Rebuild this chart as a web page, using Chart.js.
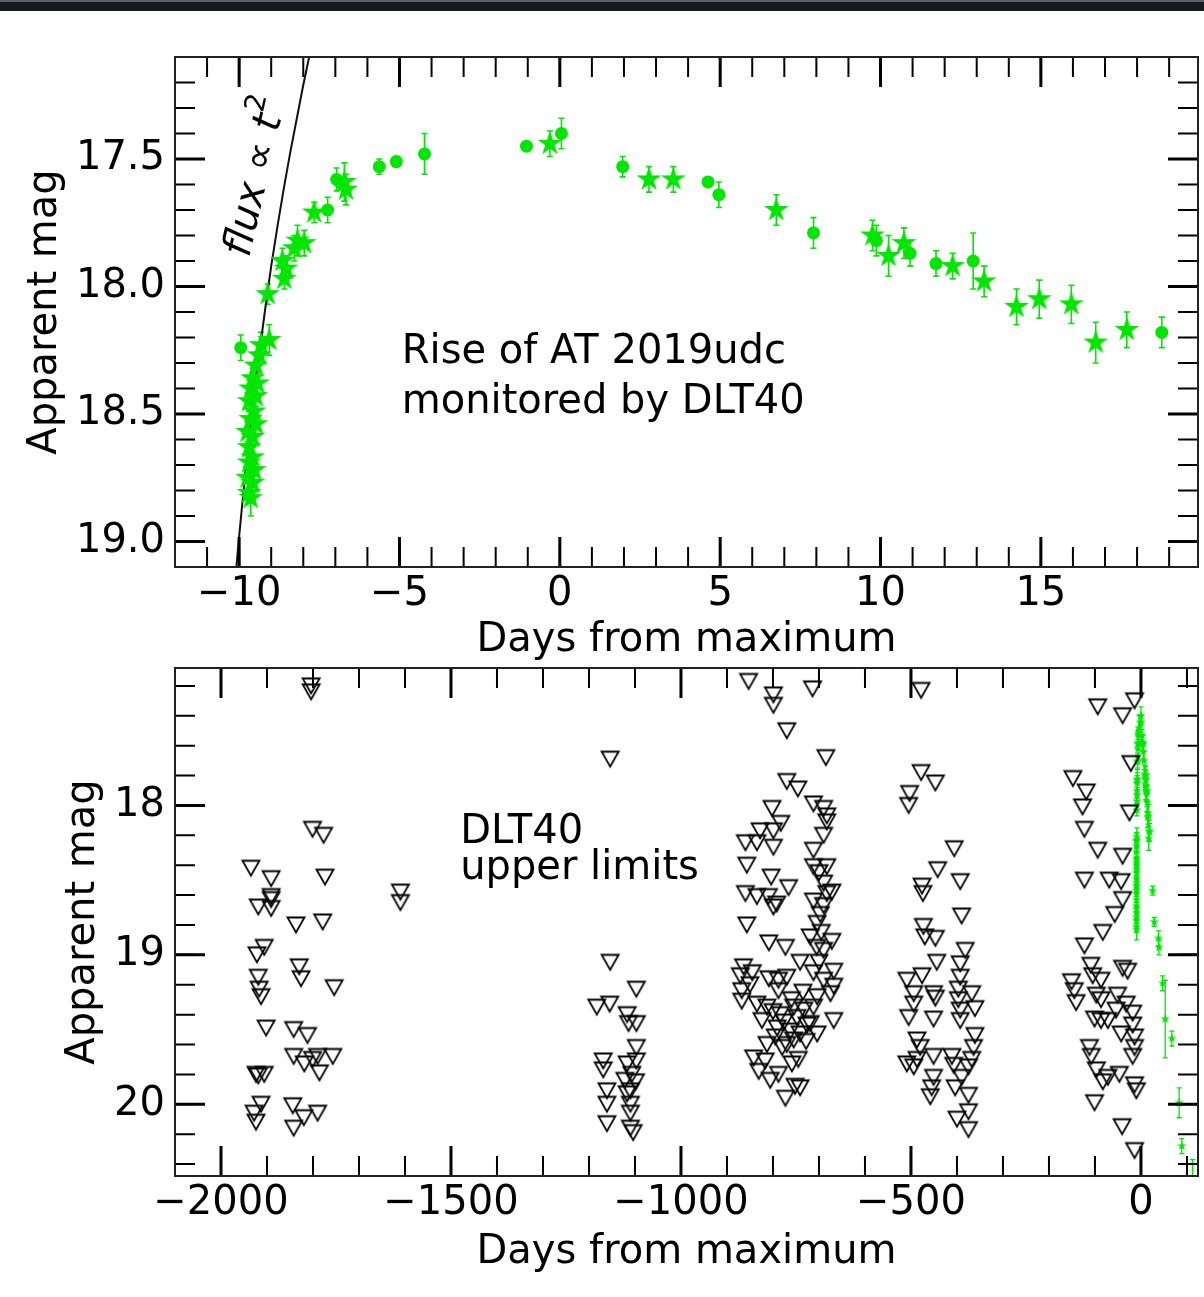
<!DOCTYPE html>
<html><head><meta charset="utf-8">
<script src="https://cdn.jsdelivr.net/npm/chart.js@4.4.1/dist/chart.umd.min.js"></script>
<style>
html,body{margin:0;padding:0;background:#fff;}
body{width:1204px;height:1297px;position:relative;overflow:hidden;}
#bar{position:absolute;left:0;top:0;width:1204px;height:9px;background:#16181b;border-top:2px solid #5e6063;z-index:5;}
canvas{position:absolute;left:0;}
#c1{top:0;} #c2{top:659px;}
</style></head><body>
<div id="bar"></div>
<canvas id="c1" width="1207" height="665"></canvas>
<canvas id="c2" width="1207" height="638"></canvas>
<script>
// ---------------- data ----------------
const topXTicks = [-10, -5, 0, 5, 10, 15];
const topYTicks = [17.5, 18.0, 18.5, 19.0];
const botXTicks = [-2000, -1500, -1000, -500, 0];
const botYTicks = [18, 19, 20];

// DLT40 detections shown as stars (days from max, mag, error)
const starT = [-9.06,-9.32,-9.375,-9.48,-9.58,-9.43,-9.64,-9.48,-9.69,-9.53,-9.64,-9.48,-9.74,-9.58,-9.69,-9.58,-9.69,-9.53,-9.74,-9.58,-9.69,-9.64,-9.11,-8.65,-8.54,-8.59,-8.18,-7.97,-8.28,-7.66,-6.72,-6.67,-0.31,2.78,3.54,6.75,9.75,10.25,10.73,12.25,13.23,14.24,14.95,15.95,16.71,17.68];
const starM = [18.21,18.23,18.27,18.31,18.36,18.38,18.40,18.43,18.45,18.49,18.52,18.54,18.57,18.59,18.63,18.67,18.69,18.72,18.75,18.77,18.81,18.83,18.03,17.90,17.93,17.97,17.82,17.83,17.85,17.71,17.59,17.62,17.44,17.58,17.58,17.70,17.80,17.88,17.83,17.92,17.98,18.08,18.05,18.07,18.22,18.17];
const starE = [0.06,0.05,0.04,0.04,0.04,0.04,0.04,0.04,0.04,0.04,0.04,0.04,0.04,0.04,0.04,0.04,0.04,0.04,0.04,0.04,0.04,0.07,0.04,0.05,0.05,0.04,0.06,0.05,0.05,0.04,0.075,0.06,0.05,0.05,0.05,0.06,0.06,0.08,0.06,0.05,0.06,0.07,0.075,0.075,0.08,0.07];

// detections shown as circles
const circT = [-9.95,-7.24,-6.96,-5.63,-5.10,-4.22,-1.04,0.05,1.96,4.62,4.96,7.91,9.87,10.92,11.73,12.89,18.77];
const circM = [18.24,17.70,17.58,17.53,17.51,17.48,17.45,17.40,17.53,17.59,17.64,17.79,17.82,17.87,17.91,17.90,18.18];
const circE = [0.05,0.05,0.045,0.03,0.02,0.08,0.01,0.06,0.04,0.01,0.05,0.06,0.06,0.05,0.05,0.11,0.06];

// later detections (bottom panel only)
const lateT = [25.3,28.9,38,39,47,52.7,67,83,88.7,112];
const lateM = [18.57,18.78,18.89,18.95,19.19,19.43,19.56,19.99,20.28,20.62];
const lateE = [0.03,0.03,0.05,0.05,0.05,0.26,0.05,0.10,0.05,0.25];

// flux ∝ t^2 curve
const fitT = [-10.1,-10.0,-9.8,-9.6,-9.4,-9.2,-9.0,-8.8,-8.6,-8.4,-8.2,-8.0,-7.8,-7.7];
const fitM = [19.12,18.98,18.72,18.49,18.29,18.10,17.92,17.76,17.61,17.47,17.34,17.21,17.09,17.04];

// DLT40 upper limits [days from max, mag]
const limitsA = [[-1804,17.20],[-1804,17.24],[-1801,18.16],[-1777,18.20],[-1935,18.42],[-1891,18.49],[-1774,18.48],[-1891,18.61],[-1891,18.63],[-1919,18.68],[-1891,18.69],[-1837,18.80],[-1779,18.78],[-1906,18.95],[-1922,19.00],[-1830,19.08],[-1826,19.16],[-1919,19.15],[-1917,19.23],[-1913,19.28],[-1754,19.22],[-1902,19.49],[-1842,19.50],[-1812,19.54],[-1842,19.68],[-1819,19.73],[-1790,19.68],[-1786,19.79],[-1757,19.68],[-1801,19.70],[-1924,19.80],[-1906,19.80],[-1919,19.81],[-1913,20.00],[-1928,20.06],[-1924,20.12],[-1844,20.01],[-1820,20.09],[-1790,20.06],[-1842,20.16],[-1610,18.58],[-1610,18.65]];
const limitsB = [[-1154,17.69],[-1154,19.05],[-1097,19.23],[-1183,19.35],[-1155,19.33],[-1117,19.40],[-1097,19.46],[-1114,19.46],[-1097,19.62],[-1169,19.71],[-1169,19.77],[-1117,19.73],[-1107,19.80],[-1122,19.84],[-1097,19.71],[-1110,19.91],[-1161,19.91],[-1161,20.00],[-1110,20.00],[-1117,19.93],[-1161,20.13],[-1110,20.16],[-1104,20.19],[-1099,19.85],[-1110,20.06]];
const limitsC = [[-853,17.17],[-799,17.26],[-799,17.33],[-714,17.22],[-770,17.50],[-685,17.68],[-770,17.84],[-746,17.89],[-802,18.02],[-783,18.12],[-712,17.99],[-690,18.02],[-683,18.07],[-683,18.11],[-690,18.20],[-828,18.17],[-860,18.25],[-835,18.25],[-799,18.17],[-799,18.28],[-712,18.30],[-857,18.40],[-712,18.41],[-683,18.41],[-804,18.48],[-766,18.55],[-860,18.59],[-835,18.61],[-810,18.61],[-799,18.68],[-792,18.66],[-712,18.64],[-683,18.59],[-672,18.58],[-690,18.67],[-697,18.73],[-704,18.79],[-857,18.80],[-809,18.92],[-773,18.95],[-719,18.88],[-672,18.91],[-690,18.97],[-741,19.05],[-864,19.08],[-871,19.14],[-868,19.24],[-868,19.31],[-809,19.16],[-788,19.17],[-770,19.15],[-788,19.24],[-712,19.12],[-690,19.17],[-668,19.11],[-668,19.21],[-675,19.26],[-704,19.28],[-835,19.33],[-813,19.35],[-824,19.44],[-784,19.40],[-755,19.35],[-733,19.37],[-712,19.35],[-791,19.49],[-762,19.51],[-741,19.53],[-719,19.46],[-704,19.53],[-668,19.44],[-813,19.60],[-770,19.60],[-755,19.57],[-842,19.69],[-817,19.71],[-831,19.78],[-806,19.84],[-788,19.80],[-759,19.73],[-745,19.70],[-752,19.88],[-741,19.89],[-773,19.96],[-800,19.38],[-776,19.45],[-748,19.42],[-726,19.47],[-760,19.30],[-735,19.25],[-795,19.55],[-780,19.62],[-728,19.58],[-850,19.20],[-845,19.12],[-700,19.05],[-695,18.85],[-705,18.95],[-700,18.45],[-690,18.52]];
const limitsD = [[-478,17.23],[-478,17.78],[-447,17.85],[-503,17.92],[-505,18.00],[-406,18.29],[-442,18.43],[-476,18.54],[-474,18.59],[-393,18.51],[-390,18.74],[-473,18.81],[-470,18.88],[-447,18.89],[-444,19.05],[-382,18.97],[-393,19.06],[-393,19.15],[-509,19.17],[-476,19.14],[-494,19.26],[-494,19.33],[-505,19.42],[-451,19.26],[-447,19.29],[-451,19.43],[-397,19.23],[-397,19.30],[-368,19.26],[-361,19.36],[-393,19.37],[-393,19.44],[-487,19.57],[-480,19.62],[-509,19.73],[-494,19.75],[-487,19.70],[-451,19.68],[-451,19.82],[-455,19.89],[-458,19.95],[-361,19.54],[-364,19.62],[-368,19.70],[-375,19.75],[-411,19.68],[-407,19.74],[-404,19.89],[-375,19.94],[-375,20.05],[-400,20.10],[-375,20.17],[-390,19.82]];
const limitsE = [[-94,17.34],[-14,17.30],[-40,17.40],[-22,17.72],[-148,17.82],[-119,17.91],[-127,18.01],[-123,18.16],[-25,18.05],[-94,18.30],[-40,18.34],[-123,18.50],[-69,18.50],[-43,18.51],[-40,18.63],[-57,18.73],[-83,18.85],[-123,18.94],[-109,19.07],[-105,19.14],[-87,19.17],[-151,19.18],[-145,19.24],[-141,19.32],[-40,19.09],[-29,19.11],[-97,19.27],[-87,19.30],[-51,19.27],[-54,19.37],[-32,19.33],[-101,19.43],[-87,19.44],[-72,19.44],[-43,19.53],[-18,19.39],[-18,19.47],[-14,19.55],[-14,19.62],[-112,19.62],[-108,19.68],[-97,19.77],[-83,19.85],[-72,19.82],[-47,19.80],[-18,19.68],[-14,19.87],[-10,19.91],[-101,19.99],[-41,20.15],[-14,20.31]];

// ---------------- style helpers ----------------
Chart.defaults.font.family = '"DejaVu Sans", sans-serif';
Chart.defaults.color = '#000';
const GREEN = '#00e600';

function starCanvas(R, color) {
  const s = Math.ceil(R * 2 + 4);
  const c = document.createElement('canvas'); c.width = s; c.height = s;
  const g = c.getContext('2d'); g.translate(s / 2, s / 2); g.beginPath();
  for (let k = 0; k < 10; k++) {
    const r = k % 2 === 0 ? R : R * 0.382;
    const a = -Math.PI / 2 + k * Math.PI / 5;
    g.lineTo(r * Math.cos(a), r * Math.sin(a));
  }
  g.closePath(); g.fillStyle = color; g.fill();
  return c;
}
function triCanvas() {
  const c = document.createElement('canvas'); c.width = 22; c.height = 20;
  const g = c.getContext('2d');
  g.beginPath(); g.moveTo(2.5, 2.5); g.lineTo(19.5, 2.5); g.lineTo(11, 17.5); g.closePath();
  g.lineWidth = 1.8; g.strokeStyle = '#000'; g.stroke();
  return c;
}
function range(a, b, step) { const out = []; for (let v = a; v <= b + 1e-9; v += step) out.push(Math.round(v * 1000) / 1000); return out; }
function fmt(v, dec) { return (v < 0 ? '\u2212' : '') + Math.abs(v).toFixed(dec); }
function pts(xs, ys) { return xs.map((x, i) => ({x: x, y: ys[i]})); }

const errorBars = {
  id: 'errorBars',
  beforeDatasetsDraw(chart) {
    const {ctx, chartArea: a, scales: {x, y}} = chart;
    ctx.save();
    ctx.beginPath(); ctx.rect(a.left, a.top, a.right - a.left, a.bottom - a.top); ctx.clip();
    chart.data.datasets.forEach(ds => {
      if (!ds.errors) return;
      ctx.strokeStyle = ds.errColor; ctx.lineWidth = ds.errWidth;
      ctx.beginPath();
      ds.data.forEach((p, i) => {
        const e = ds.errors[i]; if (!e) return;
        const px = x.getPixelForValue(p.x);
        const y1 = y.getPixelForValue(p.y - e), y2 = y.getPixelForValue(p.y + e);
        const c = ds.capHalf;
        ctx.moveTo(px, y1); ctx.lineTo(px, y2);
        ctx.moveTo(px - c, y1); ctx.lineTo(px + c, y1);
        ctx.moveTo(px - c, y2); ctx.lineTo(px + c, y2);
      });
      ctx.stroke();
    });
    ctx.restore();
  }
};

function makeFrame(o) {
  return {
    id: 'frame' + o.name,
    afterDatasetsDraw(chart) {
      const {ctx, chartArea: a, scales: {x, y}} = chart;
      ctx.save();
      ctx.strokeStyle = '#000';
      const tickSet = (xs, ys, len, w) => {
        ctx.lineWidth = w; ctx.beginPath();
        xs.forEach(v => { const p = x.getPixelForValue(v); ctx.moveTo(p, a.top); ctx.lineTo(p, a.top + len); ctx.moveTo(p, a.bottom); ctx.lineTo(p, a.bottom - len); });
        ys.forEach(v => { const p = y.getPixelForValue(v); ctx.moveTo(a.left, p); ctx.lineTo(a.left + len, p); ctx.moveTo(a.right, p); ctx.lineTo(a.right - len, p); });
        ctx.stroke();
      };
      tickSet(o.xMinor, o.yMinor, 20, 2);
      tickSet(o.xMajor, o.yMajor, 30, 3);
      ctx.lineWidth = 2; ctx.strokeStyle = '#222';
      ctx.strokeRect(a.left, a.top, a.right - a.left, a.bottom - a.top);
      ctx.fillStyle = '#000';
      (o.notes || []).forEach(n => {
        ctx.font = n.font; ctx.textAlign = 'left'; ctx.textBaseline = 'alphabetic';
        ctx.fillText(n.text, x.getPixelForValue(n.x), y.getPixelForValue(n.y));
      });
      if (o.rotNote) {
        const r = o.rotNote;
        ctx.translate(x.getPixelForValue(r.x), y.getPixelForValue(r.y));
        ctx.rotate(r.angle * Math.PI / 180);
        let w = 0;
        r.parts.forEach(p => { ctx.font = p.font; w += ctx.measureText(p.text).width; });
        let cx = -w / 2;
        ctx.textBaseline = 'middle'; ctx.textAlign = 'left';
        r.parts.forEach(p => { ctx.font = p.font; ctx.fillText(p.text, cx, p.dy || 0); cx += ctx.measureText(p.text).width; });
      }
      ctx.restore();
    }
  };
}

function scalesCfg(o) {
  return {
    x: {
      type: 'linear', min: o.xMin, max: o.xMax,
      grid: {display: false, drawTicks: false}, border: {display: false},
      afterBuildTicks: s => { s.ticks = o.xTicks.map(v => ({value: v})); },
      afterFit: s => { s.height = o.xH; s.paddingLeft = 0; s.paddingRight = 0; s.paddingTop = 0; s.paddingBottom = 0; },
      ticks: {font: {size: 40}, color: '#000', padding: o.xPad, maxRotation: 0, autoSkip: false, callback: v => fmt(v, o.xDec)},
      title: {display: true, text: 'Days from maximum', color: '#000', font: {size: 40}, padding: {top: 0, bottom: o.xTitlePad}}
    },
    y: {
      type: 'linear', min: o.yMin, max: o.yMax, reverse: true,
      grid: {display: false, drawTicks: false}, border: {display: false},
      afterBuildTicks: s => { s.ticks = o.yTicks.map(v => ({value: v})); },
      afterFit: s => { s.width = 175; s.paddingTop = 0; s.paddingBottom = 0; s.paddingLeft = 0; s.paddingRight = 0; },
      ticks: {font: {size: 40}, color: '#000', padding: 10, autoSkip: false, callback: v => fmt(v, o.yDec)},
      title: {display: true, text: 'Apparent mag', color: '#000', font: {size: 40}, padding: {top: o.yTitlePad, bottom: 0}}
    }
  };
}

const common = {
  responsive: false, animation: false, events: [],
  plugins: {legend: {display: false}, tooltip: {enabled: false}}
};

// ---------------- top panel ----------------
new Chart(document.getElementById('c1'), {
  type: 'scatter',
  data: {datasets: [
    {data: pts(starT, starM), errors: starE, errColor: GREEN, errWidth: 1.6, capHalf: 3,
     pointStyle: starCanvas(13, GREEN), pointRadius: 8, clip: 0},
    {data: pts(circT, circM), errors: circE, errColor: GREEN, errWidth: 1.6, capHalf: 3,
     pointStyle: 'circle', pointRadius: 6.5, backgroundColor: GREEN, borderWidth: 0, clip: 0},
    {data: pts(fitT, fitM), showLine: true, pointRadius: 0, borderColor: '#111', borderWidth: 2, clip: 0}
  ]},
  options: Object.assign({}, common, {
    layout: {padding: {top: 57, right: 0, bottom: 0, left: 0}},
    scales: scalesCfg({xMin: -12, xMax: 19.9, yMin: 17.1, yMax: 19.1, xTicks: topXTicks, yTicks: topYTicks,
      xDec: 0, yDec: 1, xH: 98, xPad: 4, xTitlePad: 0, yTitlePad: 22})
  }),
  plugins: [errorBars, makeFrame({
    name: 'Top', xMajor: topXTicks, yMajor: topYTicks,
    xMinor: range(-12, 19, 1), yMinor: range(17.2, 19.0, 0.1),
    notes: [
      {text: 'Rise of AT 2019udc', x: -4.93, y: 18.30, font: '40px "DejaVu Sans"'},
      {text: 'monitored by DLT40', x: -4.93, y: 18.496, font: '40px "DejaVu Sans"'}
    ],
    rotNote: {x: -9.44, y: 17.57, angle: -77, parts: [
      {text: 'flux', font: 'italic 40px "DejaVu Sans"'},
      {text: ' \u221D ', font: '40px "DejaVu Sans"'},
      {text: 't', font: 'italic 40px "DejaVu Sans"'},
      {text: '2', font: '28px "DejaVu Sans"', dy: -16}
    ]}
  })]
});

// ---------------- bottom panel ----------------
const allLimits = limitsA.concat(limitsB, limitsC, limitsD, limitsE).map(p => ({x: p[0], y: p[1]}));
const greenT = starT.concat(circT, lateT);
const greenM = starM.concat(circM, lateM);
const greenE = starE.concat(circE, lateE);

new Chart(document.getElementById('c2'), {
  type: 'scatter',
  data: {datasets: [
    {data: allLimits, pointStyle: triCanvas(), pointRadius: 8, clip: 0},
    {data: pts(greenT, greenM), errors: greenE, errColor: GREEN, errWidth: 1.3, capHalf: 2.5,
     pointStyle: starCanvas(5, GREEN), pointRadius: 4, clip: 0}
  ]},
  options: Object.assign({}, common, {
    layout: {padding: {top: 3, right: 0, bottom: 0, left: 0}},
    scales: scalesCfg({xMin: -2100, xMax: 124, yMin: 17.08, yMax: 20.48, xTicks: botXTicks, yTicks: botYTicks,
      xDec: 0, yDec: 0, xH: 121, xPad: 4, xTitlePad: 20, yTitlePad: 60})
  }),
  plugins: [errorBars, makeFrame({
    name: 'Bot', xMajor: botXTicks, yMajor: botYTicks,
    xMinor: range(-2100, 100, 100), yMinor: range(17.2, 20.4, 0.2),
    notes: [
      {text: 'DLT40', x: -1480, y: 18.252, font: '40px "DejaVu Sans"'},
      {text: 'upper limits', x: -1480, y: 18.49, font: '40px "DejaVu Sans"'}
    ]
  })]
});
</script>
</body></html>
